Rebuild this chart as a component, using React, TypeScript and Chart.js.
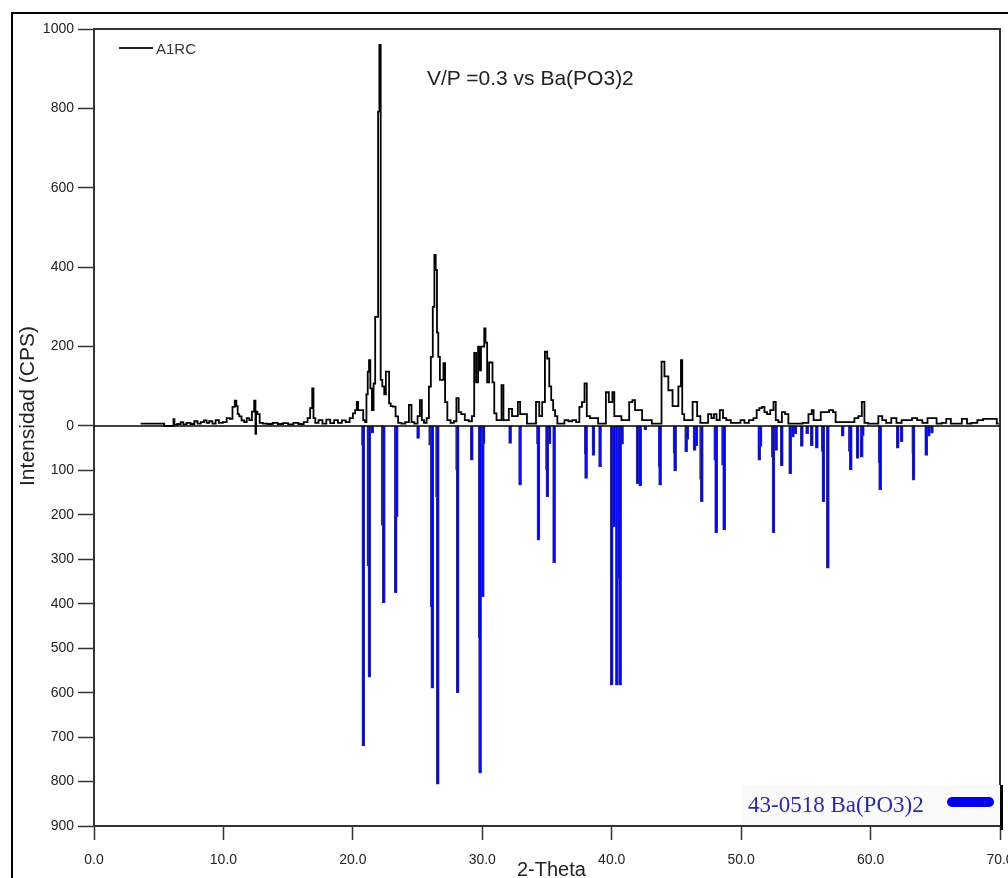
import React, { useEffect, useRef } from "react";
import { Chart, registerables } from "chart.js";

Chart.register(...registerables);

// Measured pattern A1RC: [2-Theta, intensity (CPS)]
const SAMPLE_PATTERN: [number, number][] = [
  [3.6, 6], [5.4, 6], [5.45, 0], [6.1, 0], [6.18, 17], [6.25, 3], [6.6, 5], [6.8, 10], [7.0, 4],
  [7.3, 8], [7.6, 5], [7.9, 12], [8.1, 6], [8.4, 10], [8.6, 14], [8.8, 8], [9.0, 12], [9.3, 6],
  [9.5, 15], [9.8, 8], [10.1, 10], [10.4, 20], [10.6, 18], [10.8, 48], [10.95, 64], [11.05, 50],
  [11.15, 30], [11.3, 24], [11.5, 14], [11.7, 10], [11.9, 20], [12.1, 15], [12.3, 36], [12.45, 64],
  [12.5, -20], [12.55, 36], [12.7, 30], [12.9, 8], [13.2, 6], [13.6, 5], [14.0, 8], [14.4, 5],
  [14.8, 7], [15.2, 4], [15.6, 8], [16.0, 5], [16.4, 10], [16.6, 20], [16.8, 45], [16.92, 95],
  [17.0, 20], [17.2, 8], [17.5, 15], [17.8, 6], [18.1, 16], [18.4, 7], [18.7, 15], [19.0, 8],
  [19.3, 14], [19.6, 10], [19.9, 20], [20.1, 32], [20.25, 40], [20.36, 61], [20.45, 40], [20.7, 40],
  [20.9, 15], [21.0, 10], [21.1, 80], [21.2, 137], [21.3, 166], [21.4, 95], [21.55, 40], [21.65, 107],
  [21.8, 275], [21.9, 275], [22.0, 792], [22.1, 960], [22.2, 116], [22.35, 100], [22.5, 80],
  [22.6, 137], [22.75, 137], [22.85, 57], [23.0, 50], [23.2, 49], [23.4, 24], [23.6, 8], [23.9, 6],
  [24.2, 10], [24.46, 53], [24.6, 10], [24.9, 6], [25.1, 25], [25.26, 65], [25.4, 15], [25.6, 8],
  [25.8, 20], [25.95, 99], [26.1, 174], [26.25, 300], [26.35, 431], [26.45, 393], [26.55, 235],
  [26.65, 174], [26.8, 116], [26.95, 116], [27.05, 158], [27.2, 60], [27.4, 15], [27.7, 8],
  [27.9, 12], [28.1, 70], [28.25, 35], [28.5, 30], [28.8, 15], [29.1, 12], [29.3, 25], [29.45, 184],
  [29.6, 110], [29.75, 200], [29.85, 140], [29.95, 200], [30.1, 200], [30.2, 246], [30.3, 210],
  [30.45, 110], [30.6, 160], [30.73, 160], [30.85, 110], [31.0, 32], [31.2, 15], [31.4, 15],
  [31.57, 103], [31.7, 15], [31.9, 15], [32.2, 43], [32.4, 25], [32.65, 25], [32.85, 61], [33.0, 30],
  [33.3, 30], [33.6, 6], [34.0, 6], [34.3, 61], [34.5, 25], [34.75, 60], [34.93, 187], [35.1, 170],
  [35.25, 100], [35.4, 65], [35.55, 40], [35.7, 25], [35.9, 6], [36.2, 6], [36.5, 15], [36.8, 12],
  [37.1, 15], [37.4, 10], [37.6, 48], [37.8, 60], [38.0, 107], [38.15, 25], [38.5, 20], [38.8, 20],
  [39.1, 6], [39.4, 6], [39.7, 85], [39.85, 60], [40.0, 60], [40.1, 85], [40.3, 25], [40.6, 25],
  [40.9, 15], [41.2, 15], [41.5, 60], [41.7, 65], [41.9, 40], [42.2, 40], [42.5, 15], [42.9, 15],
  [43.3, 6], [43.7, 6], [44.0, 162], [44.15, 125], [44.3, 125], [44.45, 90], [44.6, 90], [44.8, 50],
  [45.0, 50], [45.3, 100], [45.4, 166], [45.5, 30], [45.7, 15], [46.0, 15], [46.5, 61], [46.7, 25],
  [47.0, 8], [47.3, 8], [47.6, 30], [47.8, 20], [48.0, 30], [48.2, 15], [48.5, 40], [48.7, 20],
  [49.0, 15], [49.4, 8], [49.8, 8], [50.1, 15], [50.4, 8], [50.8, 15], [51.1, 20], [51.3, 40],
  [51.5, 45], [51.7, 48], [51.9, 35], [52.1, 30], [52.4, 40], [52.6, 61], [52.75, 15], [53.0, 10],
  [53.3, 35], [53.5, 30], [53.8, 6], [54.1, 6], [54.5, 6], [55.0, 8], [55.4, 30], [55.5, 40],
  [55.7, 15], [56.0, 15], [56.3, 35], [56.6, 35], [57.0, 40], [57.2, 35], [57.4, 10], [57.8, 10],
  [58.2, 10], [58.6, 10], [58.9, 20], [59.2, 25], [59.45, 61], [59.6, 8], [60.0, 6], [60.4, 6],
  [60.8, 25], [61.0, 15], [61.4, 8], [61.8, 20], [62.2, 8], [62.6, 15], [63.0, 15], [63.4, 20],
  [63.8, 15], [64.2, 8], [64.6, 20], [64.9, 20], [65.3, 6], [65.7, 8], [66.0, 18], [66.4, 6],
  [66.8, 6], [67.3, 18], [67.6, 6], [68.0, 8], [68.5, 15], [68.9, 18], [69.3, 18], [69.6, 18], [69.9, 6],
];

// Reference card 43-0518 Ba(PO3)2: stick positions (2-Theta) and intensities
const REF_THETA = [
  20.78, 20.81, 21.2, 21.28, 21.5, 22.3, 22.39, 23.31, 23.39, 25.04, 25.97, 26.1, 26.14, 26.5, 26.56,
  28.05, 28.1, 29.19, 29.8, 29.83, 30.04, 30.1, 32.15, 32.92, 34.3, 34.34, 35.0, 35.03, 35.2, 35.55,
  38.0, 38.02, 38.59, 39.1, 40.0, 40.2, 40.4, 40.55, 40.65, 40.8, 42.0, 42.2, 42.6, 43.7, 43.74,
  44.85, 44.9, 45.75, 45.85, 46.4, 46.55, 46.9, 46.96, 48.0, 48.07, 48.6, 48.69, 51.4, 51.5, 52.45,
  52.5, 52.7, 53.14, 53.79, 54.0, 54.2, 54.69, 55.1, 55.46, 55.85, 56.3, 56.36, 56.7, 57.85, 58.4,
  58.47, 59.0, 59.32, 59.4, 60.7, 60.74, 62.1, 62.4, 63.3, 63.32, 64.3, 64.5, 64.74,
];
const REF_INTENSITY = [
  43, 720, 315, 565, 16, 223, 398, 375, 204, 28, 43, 407, 590, 159, 806,
  99, 600, 77, 477, 781, 384, 40, 39, 133, 40, 257, 99, 159, 40, 308,
  63, 118, 66, 92, 583, 227, 583, 343, 583, 41, 130, 135, 9, 92, 133,
  61, 101, 58, 30, 55, 45, 120, 170, 77, 240, 88, 234, 77, 46, 70,
  240, 55, 90, 108, 25, 17, 46, 17, 44, 50, 57, 170, 320, 23, 57,
  99, 73, 70, 22, 83, 144, 50, 35, 60, 122, 66, 23, 16,
];

const X_TICKS = [0, 10, 20, 30, 40, 50, 60, 70];
const UPPER_TICKS = [0, 200, 400, 600, 800, 1000];
const LOWER_TICKS = [100, 200, 300, 400, 500, 600, 700, 800, 900];
const UPPER_MAX = 1000;
const LOWER_MAX = 900;

// share of plot height used by the upper (measured) half
const UPPER_SHARE = 397 / 797;
const Y_MIN = UPPER_MAX - UPPER_MAX / UPPER_SHARE; // upper-axis units at plot bottom
const Y2_MIN = LOWER_MAX - LOWER_MAX / (1 - UPPER_SHARE); // lower-axis units at plot top
const LOWER_TO_UPPER = -Y_MIN / LOWER_MAX;

const AXIS_COLOR = "#333";
const TICK_FONT = { family: "'Liberation Sans', Arial, sans-serif", size: 14 };

const framePlugin = {
  id: "frameLines",
  afterDatasetsDraw(chart: any) {
    const { ctx, chartArea } = chart;
    const { left, right, top, bottom } = chartArea;
    ctx.save();
    ctx.strokeStyle = AXIS_COLOR;
    ctx.lineWidth = 2;
    ctx.beginPath();
    ctx.moveTo(left, top);
    ctx.lineTo(right, top);
    ctx.lineTo(right, bottom);
    ctx.stroke();
    const y0 = chart.scales.y.getPixelForValue(0);
    ctx.strokeStyle = "#000";
    ctx.lineWidth = 1.5;
    ctx.beginPath();
    ctx.moveTo(left, y0);
    ctx.lineTo(right, y0);
    ctx.stroke();
    ctx.restore();
  },
};

export default function App() {
  const canvasRef = useRef<HTMLCanvasElement | null>(null);

  useEffect(() => {
    if (!canvasRef.current) return;
    const chart = new Chart(canvasRef.current, {
      type: "line",
      data: {
        datasets: [
          {
            type: "line",
            label: "A1RC",
            data: SAMPLE_PATTERN.map(([x, y]) => ({ x, y })),
            borderColor: "#000",
            borderWidth: 1.8,
            pointRadius: 0,
            stepped: "middle",
            yAxisID: "y",
            xAxisID: "x",
            order: 1,
          } as any,
          {
            type: "bar",
            label: "43-0518 Ba(PO3)2",
            data: REF_THETA.map((x, i) => ({ x, y: REF_INTENSITY[i] })),
            backgroundColor: "#0000ff",
            borderColor: "#2e2e8c",
            borderWidth: 1,
            borderSkipped: false,
            barThickness: 3,
            grouped: false,
            yAxisID: "y2",
            xAxisID: "x",
            order: 2,
          } as any,
        ],
      },
      options: {
        responsive: false,
        devicePixelRatio: 1,
        animation: false,
        layout: { padding: { left: 0, right: 8, top: 29, bottom: 0 } },
        plugins: { legend: { display: false }, tooltip: { enabled: false } },
        scales: {
          x: {
            type: "linear",
            position: "bottom",
            min: 0,
            max: 70,
            offset: false,
            afterBuildTicks: (s: any) => {
              s.ticks = X_TICKS.map((v) => ({ value: v }));
            },
            afterFit: (s: any) => {
              s.height = 52;
              s.paddingLeft = 0;
              s.paddingRight = 0;
            },
            ticks: {
              callback: (v: any) => Number(v).toFixed(1),
              font: TICK_FONT,
              color: "#222",
              padding: 12,
              maxRotation: 0,
              autoSkip: false,
            },
            grid: {
              offset: false,
              drawOnChartArea: false,
              drawTicks: true,
              tickLength: 14,
              tickColor: AXIS_COLOR,
              tickWidth: 1.5,
            },
            border: { display: true, color: AXIS_COLOR, width: 2 },
          },
          y: {
            type: "linear",
            position: "left",
            min: Y_MIN,
            max: UPPER_MAX,
            afterBuildTicks: (s: any) => {
              s.ticks = [
                ...UPPER_TICKS.map((v) => ({ value: v })),
                ...LOWER_TICKS.map((v) => ({ value: -v * LOWER_TO_UPPER })),
              ];
            },
            afterFit: (s: any) => {
              s.width = 94;
              s.paddingTop = 0;
              s.paddingBottom = 0;
            },
            ticks: {
              callback: (v: any) => {
                const n = Number(v);
                return n >= 0 ? String(Math.round(n)) : String(Math.round(-n / LOWER_TO_UPPER));
              },
              font: TICK_FONT,
              color: "#222",
              padding: 4,
              autoSkip: false,
            },
            grid: {
              drawOnChartArea: false,
              drawTicks: true,
              tickLength: 16,
              tickColor: AXIS_COLOR,
              tickWidth: 1.5,
            },
            border: { display: true, color: AXIS_COLOR, width: 2 },
          },
          y2: {
            type: "linear",
            display: false,
            reverse: true,
            min: Y2_MIN,
            max: LOWER_MAX,
          },
        },
      } as any,
      plugins: [framePlugin],
    });
    return () => chart.destroy();
  }, []);

  const sans = "'Liberation Sans', Arial, sans-serif";

  return (
    <div
      style={{
        position: "absolute",
        left: 0,
        top: 0,
        width: 1008,
        height: 878,
        overflow: "hidden",
        background: "#fff",
        fontFamily: sans,
      }}
    >
      <canvas ref={canvasRef} width={1008} height={878} style={{ display: "block", position: "absolute", left: 0, top: 0 }} />
      {/* outer frame */}
      <div
        style={{
          position: "absolute",
          left: 11,
          top: 12,
          width: 1100,
          height: 1000,
          borderLeft: "2px solid #000",
          borderTop: "2px solid #000",
          pointerEvents: "none",
        }}
      />
      {/* legend A1RC */}
      <div style={{ position: "absolute", left: 119, top: 47, width: 34, height: 1.5, background: "#222" }} />
      <div style={{ position: "absolute", left: 156, top: 40.5, fontSize: 15, lineHeight: 1, color: "#333", whiteSpace: "nowrap" }}>
        A1RC
      </div>
      {/* annotation */}
      <div style={{ position: "absolute", left: 427, top: 67.3, fontSize: 21, lineHeight: 1, color: "#222", whiteSpace: "nowrap" }}>
        V/P =0.3 vs Ba(PO3)2
      </div>
      {/* y title */}
      <div
        style={{
          position: "absolute",
          left: 26,
          top: 406,
          fontSize: 21,
          lineHeight: 1,
          color: "#222",
          whiteSpace: "nowrap",
          transform: "translate(-50%, -50%) rotate(-90deg)",
        }}
      >
        Intensidad (CPS)
      </div>
      {/* x title */}
      <div style={{ position: "absolute", left: 517, top: 858.5, fontSize: 20, lineHeight: 1, color: "#222", whiteSpace: "nowrap" }}>
        2-Theta
      </div>
      {/* reference legend */}
      <div style={{ position: "absolute", left: 741, top: 785, width: 260, height: 40, background: "#fafafa" }} />
      <div style={{ position: "absolute", left: 1000, top: 785, width: 3, height: 45, background: "#000" }} />
      <div
        style={{
          position: "absolute",
          left: 748,
          top: 793,
          fontSize: 23,
          lineHeight: 1,
          color: "#2b2ba0",
          whiteSpace: "nowrap",
          fontFamily: "'Liberation Serif', 'Times New Roman', serif",
        }}
      >
        43-0518 Ba(PO3)2
      </div>
      <div style={{ position: "absolute", left: 947, top: 797, width: 47, height: 10, borderRadius: 5, background: "#0000ee" }} />
    </div>
  );
}
